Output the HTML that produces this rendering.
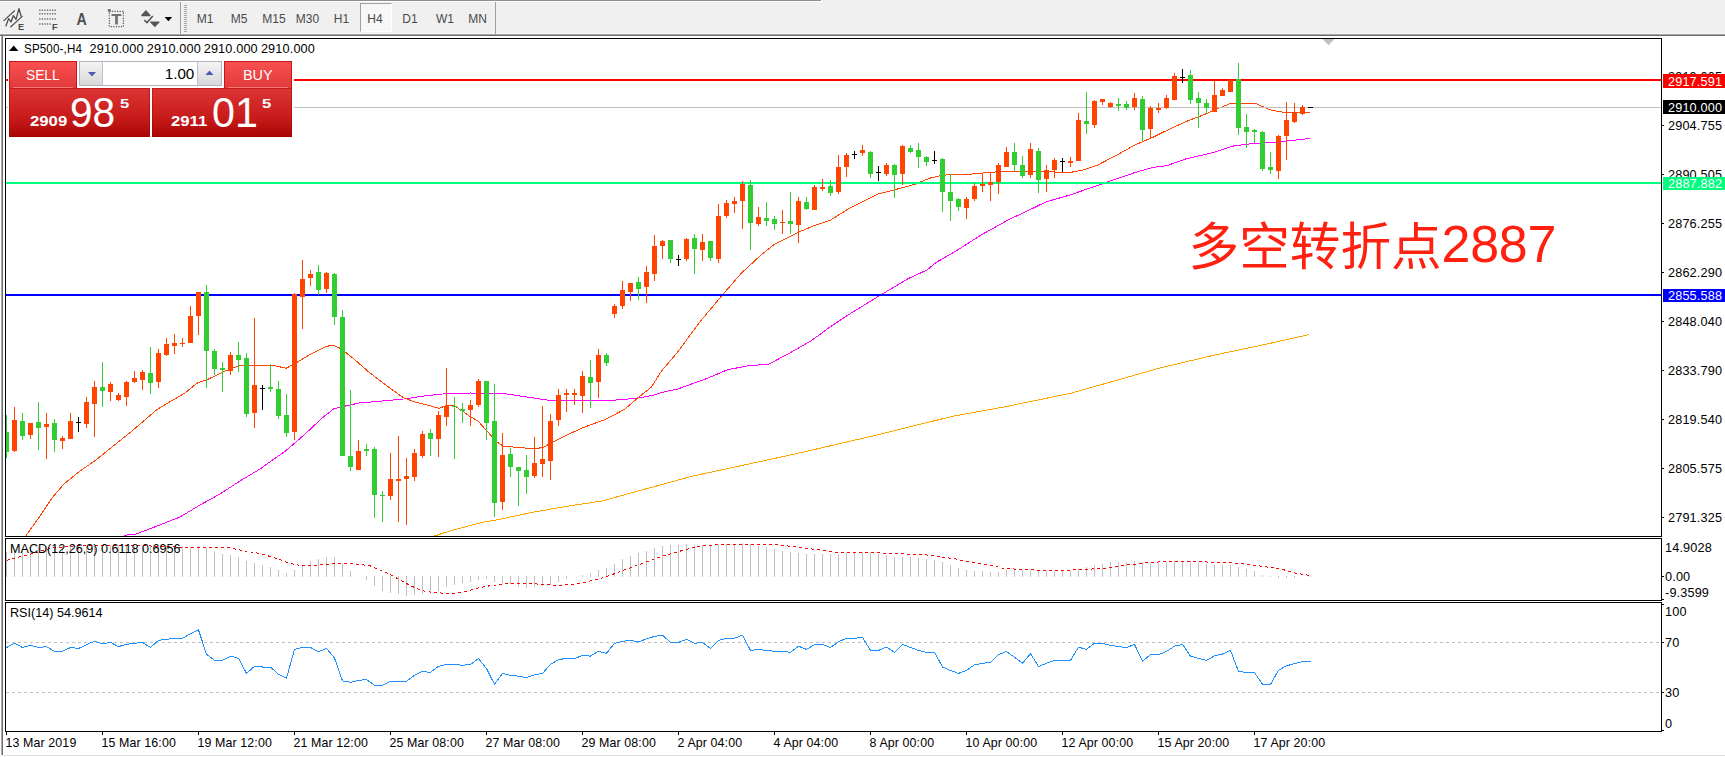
<!DOCTYPE html>
<html><head><meta charset="utf-8"><title>SP500-,H4</title>
<style>
html,body{margin:0;padding:0;}
body{width:1725px;height:757px;overflow:hidden;background:#fff;position:relative;font-family:"Liberation Sans","Noto Sans CJK SC",sans-serif;}
.t{position:absolute;white-space:pre;}
#tb{position:absolute;left:0;top:0;width:1725px;height:36px;background:#f0f0f0;}
.tf{position:absolute;top:12px;font-size:12px;line-height:14px;color:#4a4a4a;text-align:center;}
</style></head><body>
<div id="tb">
<div style="position:absolute;left:0;top:0;width:822px;height:2px;background:#fff"></div><div style="position:absolute;left:0;top:0;width:821px;height:1px;background:#909090"></div>

<div style="position:absolute;left:0;top:33px;width:1725px;height:1px;background:#f6f6f6"></div>
<div style="position:absolute;left:0;top:34px;width:1725px;height:1px;background:#a6a6a6"></div>
<div style="position:absolute;left:0;top:35px;width:1725px;height:1px;background:#6c6c6c"></div>
<div style="position:absolute;left:180px;top:2px;width:1px;height:32px;background:#a0a0a0"></div>
<div style="position:absolute;left:495px;top:2px;width:1px;height:32px;background:#a0a0a0"></div>
<div style="position:absolute;left:184px;top:5px;width:3px;height:27px;background:repeating-linear-gradient(#a8a8a8 0 1px,#f0f0f0 1px 2px)"></div>
<div style="position:absolute;left:360px;top:3px;width:30px;height:27px;border:1px solid #a0a0a0;border-right-color:#fff;border-bottom-color:#fff;background:#f7f7f7"></div>
<div class="tf" style="left:185px;width:40px">M1</div><div class="tf" style="left:219px;width:40px">M5</div><div class="tf" style="left:254px;width:40px">M15</div><div class="tf" style="left:287.5px;width:40px">M30</div><div class="tf" style="left:321.5px;width:40px">H1</div><div class="tf" style="left:355px;width:40px">H4</div><div class="tf" style="left:390px;width:40px">D1</div><div class="tf" style="left:425px;width:40px">W1</div><div class="tf" style="left:457.5px;width:40px">MN</div>
<svg width="180" height="36" style="position:absolute;left:0;top:0">
<g stroke="#4c4c4c" stroke-width="1.15" fill="none" stroke-linecap="round">
<path d="M3.8,20.6 L14.6,10.8 M10.6,27 L22.2,16.3"/>
<path d="M6,25.8 L8.6,18.6 L11,22 L13.4,15.6 L16,19.4 L19,8.6 L21,16" stroke-width="1.3" stroke-linejoin="round"/>
</g>
<text x="18" y="29.6" font-family="Liberation Sans,sans-serif" font-size="9.2" font-weight="bold" fill="#4a4a4a">E</text>
<g stroke="#6a6a6a" stroke-width="1.5" stroke-dasharray="1.3 1.25">
<path d="M39.2,10.2 H56.4 M39.2,13.8 H56.4 M39.2,19 H56.4 M39.2,24 H51.5"/>
</g>
<text x="52" y="29.6" font-family="Liberation Sans,sans-serif" font-size="9.2" font-weight="bold" fill="#4a4a4a">F</text>
<text transform="translate(76.6,24.5) scale(.9,1)" font-family="Liberation Sans,sans-serif" font-size="15.8" font-weight="bold" fill="#505050">A</text>
<rect x="109.4" y="11.3" width="14" height="15.3" fill="none" stroke="#555" stroke-width="1.2" stroke-dasharray="1.2 1.35"/>
<rect x="107.8" y="9.2" width="3" height="2.4" fill="#666"/>
<path d="M111.5,14 H121.4 V16 H117.9 V24.5 H115.1 V16 H111.5 Z" fill="#747474"/>
<path d="M145.9,10 L150.5,15 V16.2 H141.3 V15 Z" fill="#555"/>
<path d="M150.3,21.6 H159.4 V22.4 L154.8,27.2 L150.3,22.4 Z" fill="#555"/>
<path d="M144.3,20.1 L147,22.6 L152.8,16" stroke="#555" stroke-width="1.5" fill="none"/>
<path d="M164.6,17 H172.2 L168.4,21.2 Z" fill="#000"/>
</svg>
</div>
<svg width="1725" height="757" style="position:absolute;left:0;top:0" shape-rendering="crispEdges">
<defs><clipPath id="cm"><rect x="6" y="39" width="1655" height="497"/></clipPath></defs>
<g clip-path="url(#cm)">
<polyline points="434.5,536.0 450.0,530.9 482.0,522.4 496.4,520.0 534.0,512.0 570.0,505.8 602.0,501.0 691.0,476.5 795.0,454.0 873.5,435.8 951.7,416.5 1004.0,407.0 1071.7,393.0 1160.0,368.0 1212.6,355.5 1264.8,344.5 1309.0,334.6" fill="none" stroke="#ffa500" stroke-width="1" />
<polyline points="124.0,535.4 136.0,534.0 152.0,528.0 180.0,517.0 200.0,505.0 220.0,494.0 240.0,481.0 260.0,469.0 267.0,463.9 285.5,451.0 304.0,435.0 322.5,417.7 333.5,409.0 341.0,407.0 359.0,403.0 387.0,400.6 405.7,398.8 424.0,396.0 442.6,394.0 470.0,393.0 504.7,393.6 527.0,397.0 547.0,400.0 588.0,400.0 615.7,400.0 636.0,398.4 652.6,395.4 665.6,391.4 677.7,389.0 705.5,379.0 727.7,369.7 747.0,366.0 769.0,364.0 788.7,353.6 810.9,341.0 830.0,327.0 849.7,314.0 880.0,295.4 908.0,278.7 927.0,270.0 935.7,262.7 955.0,251.6 982.8,234.0 1010.0,219.0 1024.0,212.6 1046.0,201.9 1070.0,195.0 1088.7,188.5 1109.0,181.5 1135.0,172.5 1153.4,167.3 1167.0,165.6 1185.5,159.0 1213.0,152.6 1233.5,146.0 1250.0,143.9 1278.0,141.9 1296.4,140.0 1310.3,138.4" fill="none" stroke="#ff00ff" stroke-width="1" />
<polyline points="26.0,535.6 40.0,516.0 52.0,498.0 64.0,484.0 80.0,471.0 96.0,460.0 112.0,447.0 132.0,431.0 157.0,409.5 185.0,392.9 198.0,382.6 206.5,380.0 224.0,371.5 238.8,366.0 253.6,365.4 273.9,365.4 285.9,368.3 294.2,364.0 310.9,353.9 325.7,346.5 333.0,345.2 340.5,348.4 353.4,358.5 368.2,371.5 387.0,386.0 403.8,398.0 415.0,402.0 429.7,405.6 439.0,408.4 446.0,405.6 454.8,406.0 463.0,411.5 469.6,416.3 478.0,421.0 486.0,430.0 497.0,442.0 503.0,446.0 521.4,447.8 536.0,448.7 543.6,447.2 552.8,442.2 569.4,433.9 582.4,428.0 597.0,422.4 606.4,419.0 625.0,409.0 637.9,397.8 651.5,387.0 661.0,371.7 677.7,352.0 700.0,321.7 722.0,295.4 741.5,273.0 761.0,255.0 774.8,244.0 799.8,231.6 816.4,224.7 830.0,220.5 849.7,208.0 877.9,194.0 896.4,189.3 914.9,184.3 929.7,178.2 940.8,175.5 953.7,174.2 970.0,174.2 996.0,171.9 1024.0,171.5 1051.7,171.9 1070.0,172.5 1083.0,170.0 1098.0,164.9 1116.4,155.3 1135.0,145.0 1153.4,137.0 1172.0,127.9 1189.0,120.3 1204.0,114.7 1218.8,108.2 1231.7,103.0 1241.0,103.0 1255.7,103.6 1270.5,110.0 1283.5,112.3 1296.4,112.9 1310.3,112.3" fill="none" stroke="#ff4500" stroke-width="1" />
<rect x="6" y="107" width="1655" height="1" fill="#c0c0c0"/>
<rect x="6" y="79" width="1655" height="2" fill="#ff0000"/>
<rect x="6" y="182" width="1655" height="2" fill="#00ff7f"/>
<rect x="6" y="294" width="1655" height="2" fill="#0000ff"/>
<rect x="6" y="415" width="1" height="43" fill="#32cd32"/>
<rect x="4" y="432" width="5" height="20" fill="#32cd32"/>
<rect x="14" y="407" width="1" height="45" fill="#ff4500"/>
<rect x="12" y="420" width="5" height="31" fill="#ff4500"/>
<rect x="22" y="413" width="1" height="27" fill="#32cd32"/>
<rect x="20" y="421" width="5" height="15" fill="#32cd32"/>
<rect x="30" y="423" width="1" height="16" fill="#ff4500"/>
<rect x="28" y="423" width="5" height="12" fill="#ff4500"/>
<rect x="38" y="402" width="1" height="48" fill="#32cd32"/>
<rect x="36" y="422" width="5" height="6" fill="#32cd32"/>
<rect x="46" y="413" width="1" height="46" fill="#ff4500"/>
<rect x="44" y="424" width="5" height="3" fill="#ff4500"/>
<rect x="54" y="419" width="1" height="33" fill="#32cd32"/>
<rect x="52" y="423" width="5" height="17" fill="#32cd32"/>
<rect x="62" y="436" width="1" height="13" fill="#ff4500"/>
<rect x="60" y="438" width="5" height="3" fill="#ff4500"/>
<rect x="70" y="413" width="1" height="26" fill="#ff4500"/>
<rect x="68" y="421" width="5" height="18" fill="#ff4500"/>
<rect x="78" y="417" width="1" height="15" fill="#000"/>
<rect x="76" y="422" width="5" height="1" fill="#000"/>
<rect x="86" y="397" width="1" height="31" fill="#ff4500"/>
<rect x="84" y="402" width="5" height="22" fill="#ff4500"/>
<rect x="94" y="381" width="1" height="56" fill="#ff4500"/>
<rect x="92" y="387" width="5" height="17" fill="#ff4500"/>
<rect x="102" y="362" width="1" height="45" fill="#32cd32"/>
<rect x="100" y="387" width="5" height="4" fill="#32cd32"/>
<rect x="110" y="382" width="1" height="19" fill="#ff4500"/>
<rect x="108" y="384" width="5" height="8" fill="#ff4500"/>
<rect x="118" y="393" width="1" height="8" fill="#ff4500"/>
<rect x="116" y="395" width="5" height="5" fill="#ff4500"/>
<rect x="126" y="381" width="1" height="25" fill="#ff4500"/>
<rect x="124" y="382" width="5" height="15" fill="#ff4500"/>
<rect x="134" y="371" width="1" height="12" fill="#ff4500"/>
<rect x="132" y="378" width="5" height="4" fill="#ff4500"/>
<rect x="142" y="370" width="1" height="20" fill="#ff4500"/>
<rect x="140" y="372" width="5" height="8" fill="#ff4500"/>
<rect x="150" y="347" width="1" height="47" fill="#32cd32"/>
<rect x="148" y="373" width="5" height="10" fill="#32cd32"/>
<rect x="158" y="349" width="1" height="39" fill="#ff4500"/>
<rect x="156" y="353" width="5" height="29" fill="#ff4500"/>
<rect x="166" y="338" width="1" height="18" fill="#ff4500"/>
<rect x="164" y="344" width="5" height="11" fill="#ff4500"/>
<rect x="174" y="334" width="1" height="20" fill="#ff4500"/>
<rect x="172" y="343" width="5" height="3" fill="#ff4500"/>
<rect x="182" y="338" width="1" height="9" fill="#ff4500"/>
<rect x="180" y="343" width="5" height="1" fill="#ff4500"/>
<rect x="190" y="306" width="1" height="37" fill="#ff4500"/>
<rect x="188" y="316" width="5" height="27" fill="#ff4500"/>
<rect x="198" y="292" width="1" height="43" fill="#ff4500"/>
<rect x="196" y="292" width="5" height="24" fill="#ff4500"/>
<rect x="206" y="285" width="1" height="103" fill="#32cd32"/>
<rect x="204" y="292" width="5" height="59" fill="#32cd32"/>
<rect x="214" y="349" width="1" height="26" fill="#32cd32"/>
<rect x="212" y="351" width="5" height="18" fill="#32cd32"/>
<rect x="222" y="362" width="1" height="30" fill="#32cd32"/>
<rect x="220" y="368" width="5" height="2" fill="#32cd32"/>
<rect x="230" y="352" width="1" height="23" fill="#ff4500"/>
<rect x="228" y="355" width="5" height="16" fill="#ff4500"/>
<rect x="238" y="342" width="1" height="30" fill="#32cd32"/>
<rect x="236" y="355" width="5" height="5" fill="#32cd32"/>
<rect x="246" y="353" width="1" height="64" fill="#32cd32"/>
<rect x="244" y="358" width="5" height="56" fill="#32cd32"/>
<rect x="254" y="318" width="1" height="110" fill="#ff4500"/>
<rect x="252" y="385" width="5" height="28" fill="#ff4500"/>
<rect x="262" y="385" width="1" height="25" fill="#000"/>
<rect x="260" y="388" width="5" height="1" fill="#000"/>
<rect x="270" y="364" width="1" height="28" fill="#32cd32"/>
<rect x="268" y="387" width="5" height="2" fill="#32cd32"/>
<rect x="278" y="381" width="1" height="38" fill="#32cd32"/>
<rect x="276" y="389" width="5" height="27" fill="#32cd32"/>
<rect x="286" y="394" width="1" height="43" fill="#32cd32"/>
<rect x="284" y="415" width="5" height="18" fill="#32cd32"/>
<rect x="294" y="293" width="1" height="147" fill="#ff4500"/>
<rect x="292" y="294" width="5" height="138" fill="#ff4500"/>
<rect x="302" y="260" width="1" height="69" fill="#ff4500"/>
<rect x="300" y="279" width="5" height="18" fill="#ff4500"/>
<rect x="310" y="270" width="1" height="16" fill="#ff4500"/>
<rect x="308" y="274" width="5" height="4" fill="#ff4500"/>
<rect x="318" y="265" width="1" height="30" fill="#32cd32"/>
<rect x="316" y="272" width="5" height="18" fill="#32cd32"/>
<rect x="326" y="272" width="1" height="21" fill="#ff4500"/>
<rect x="324" y="273" width="5" height="16" fill="#ff4500"/>
<rect x="334" y="273" width="1" height="52" fill="#32cd32"/>
<rect x="332" y="274" width="5" height="43" fill="#32cd32"/>
<rect x="342" y="310" width="1" height="146" fill="#32cd32"/>
<rect x="340" y="317" width="5" height="139" fill="#32cd32"/>
<rect x="350" y="390" width="1" height="81" fill="#32cd32"/>
<rect x="348" y="456" width="5" height="11" fill="#32cd32"/>
<rect x="358" y="440" width="1" height="30" fill="#ff4500"/>
<rect x="356" y="451" width="5" height="19" fill="#ff4500"/>
<rect x="366" y="444" width="1" height="12" fill="#32cd32"/>
<rect x="364" y="449" width="5" height="2" fill="#32cd32"/>
<rect x="374" y="447" width="1" height="71" fill="#32cd32"/>
<rect x="372" y="449" width="5" height="46" fill="#32cd32"/>
<rect x="382" y="491" width="1" height="31" fill="#32cd32"/>
<rect x="380" y="495" width="5" height="1" fill="#32cd32"/>
<rect x="390" y="453" width="1" height="47" fill="#ff4500"/>
<rect x="388" y="479" width="5" height="17" fill="#ff4500"/>
<rect x="398" y="436" width="1" height="86" fill="#ff4500"/>
<rect x="396" y="479" width="5" height="2" fill="#ff4500"/>
<rect x="406" y="458" width="1" height="67" fill="#ff4500"/>
<rect x="404" y="476" width="5" height="3" fill="#ff4500"/>
<rect x="414" y="449" width="1" height="32" fill="#ff4500"/>
<rect x="412" y="453" width="5" height="24" fill="#ff4500"/>
<rect x="422" y="431" width="1" height="27" fill="#ff4500"/>
<rect x="420" y="434" width="5" height="22" fill="#ff4500"/>
<rect x="430" y="429" width="1" height="27" fill="#32cd32"/>
<rect x="428" y="433" width="5" height="6" fill="#32cd32"/>
<rect x="438" y="411" width="1" height="46" fill="#ff4500"/>
<rect x="436" y="415" width="5" height="24" fill="#ff4500"/>
<rect x="446" y="368" width="1" height="58" fill="#ff4500"/>
<rect x="444" y="406" width="5" height="11" fill="#ff4500"/>
<rect x="454" y="397" width="1" height="62" fill="#32cd32"/>
<rect x="452" y="406" width="5" height="1" fill="#32cd32"/>
<rect x="462" y="403" width="1" height="20" fill="#32cd32"/>
<rect x="460" y="409" width="5" height="2" fill="#32cd32"/>
<rect x="470" y="400" width="1" height="26" fill="#ff4500"/>
<rect x="468" y="405" width="5" height="5" fill="#ff4500"/>
<rect x="478" y="379" width="1" height="28" fill="#ff4500"/>
<rect x="476" y="381" width="5" height="24" fill="#ff4500"/>
<rect x="486" y="381" width="1" height="59" fill="#32cd32"/>
<rect x="484" y="381" width="5" height="42" fill="#32cd32"/>
<rect x="494" y="384" width="1" height="133" fill="#32cd32"/>
<rect x="492" y="421" width="5" height="82" fill="#32cd32"/>
<rect x="502" y="433" width="1" height="77" fill="#ff4500"/>
<rect x="500" y="455" width="5" height="47" fill="#ff4500"/>
<rect x="510" y="448" width="1" height="29" fill="#32cd32"/>
<rect x="508" y="454" width="5" height="13" fill="#32cd32"/>
<rect x="518" y="467" width="1" height="39" fill="#32cd32"/>
<rect x="516" y="467" width="5" height="4" fill="#32cd32"/>
<rect x="526" y="455" width="1" height="39" fill="#32cd32"/>
<rect x="524" y="470" width="5" height="7" fill="#32cd32"/>
<rect x="534" y="437" width="1" height="41" fill="#ff4500"/>
<rect x="532" y="463" width="5" height="13" fill="#ff4500"/>
<rect x="542" y="406" width="1" height="71" fill="#ff4500"/>
<rect x="540" y="459" width="5" height="5" fill="#ff4500"/>
<rect x="550" y="414" width="1" height="66" fill="#ff4500"/>
<rect x="548" y="421" width="5" height="40" fill="#ff4500"/>
<rect x="558" y="389" width="1" height="37" fill="#ff4500"/>
<rect x="556" y="395" width="5" height="25" fill="#ff4500"/>
<rect x="566" y="389" width="1" height="23" fill="#ff4500"/>
<rect x="564" y="393" width="5" height="2" fill="#ff4500"/>
<rect x="574" y="389" width="1" height="16" fill="#ff4500"/>
<rect x="572" y="393" width="5" height="2" fill="#ff4500"/>
<rect x="582" y="371" width="1" height="42" fill="#ff4500"/>
<rect x="580" y="376" width="5" height="20" fill="#ff4500"/>
<rect x="590" y="360" width="1" height="48" fill="#32cd32"/>
<rect x="588" y="377" width="5" height="6" fill="#32cd32"/>
<rect x="598" y="349" width="1" height="49" fill="#ff4500"/>
<rect x="596" y="355" width="5" height="27" fill="#ff4500"/>
<rect x="606" y="353" width="1" height="13" fill="#32cd32"/>
<rect x="604" y="355" width="5" height="8" fill="#32cd32"/>
<rect x="614" y="304" width="1" height="14" fill="#ff4500"/>
<rect x="612" y="306" width="5" height="8" fill="#ff4500"/>
<rect x="622" y="281" width="1" height="28" fill="#ff4500"/>
<rect x="620" y="290" width="5" height="16" fill="#ff4500"/>
<rect x="630" y="283" width="1" height="18" fill="#ff4500"/>
<rect x="628" y="283" width="5" height="9" fill="#ff4500"/>
<rect x="638" y="277" width="1" height="23" fill="#32cd32"/>
<rect x="636" y="282" width="5" height="7" fill="#32cd32"/>
<rect x="646" y="266" width="1" height="37" fill="#ff4500"/>
<rect x="644" y="272" width="5" height="15" fill="#ff4500"/>
<rect x="654" y="235" width="1" height="46" fill="#ff4500"/>
<rect x="652" y="246" width="5" height="28" fill="#ff4500"/>
<rect x="662" y="240" width="1" height="19" fill="#ff4500"/>
<rect x="660" y="241" width="5" height="5" fill="#ff4500"/>
<rect x="670" y="240" width="1" height="23" fill="#32cd32"/>
<rect x="668" y="240" width="5" height="19" fill="#32cd32"/>
<rect x="678" y="255" width="1" height="11" fill="#000"/>
<rect x="676" y="259" width="5" height="1" fill="#000"/>
<rect x="686" y="238" width="1" height="23" fill="#ff4500"/>
<rect x="684" y="239" width="5" height="20" fill="#ff4500"/>
<rect x="694" y="234" width="1" height="40" fill="#32cd32"/>
<rect x="692" y="238" width="5" height="11" fill="#32cd32"/>
<rect x="702" y="234" width="1" height="27" fill="#ff4500"/>
<rect x="700" y="242" width="5" height="8" fill="#ff4500"/>
<rect x="710" y="241" width="1" height="20" fill="#32cd32"/>
<rect x="708" y="241" width="5" height="17" fill="#32cd32"/>
<rect x="718" y="204" width="1" height="59" fill="#ff4500"/>
<rect x="716" y="216" width="5" height="43" fill="#ff4500"/>
<rect x="726" y="200" width="1" height="18" fill="#ff4500"/>
<rect x="724" y="203" width="5" height="13" fill="#ff4500"/>
<rect x="734" y="197" width="1" height="16" fill="#ff4500"/>
<rect x="732" y="201" width="5" height="3" fill="#ff4500"/>
<rect x="742" y="181" width="1" height="48" fill="#ff4500"/>
<rect x="740" y="184" width="5" height="17" fill="#ff4500"/>
<rect x="750" y="180" width="1" height="70" fill="#32cd32"/>
<rect x="748" y="185" width="5" height="38" fill="#32cd32"/>
<rect x="758" y="207" width="1" height="19" fill="#ff4500"/>
<rect x="756" y="217" width="5" height="7" fill="#ff4500"/>
<rect x="766" y="202" width="1" height="24" fill="#32cd32"/>
<rect x="764" y="218" width="5" height="3" fill="#32cd32"/>
<rect x="774" y="216" width="1" height="14" fill="#32cd32"/>
<rect x="772" y="219" width="5" height="5" fill="#32cd32"/>
<rect x="782" y="210" width="1" height="24" fill="#ff4500"/>
<rect x="780" y="222" width="5" height="1" fill="#ff4500"/>
<rect x="790" y="192" width="1" height="42" fill="#32cd32"/>
<rect x="788" y="221" width="5" height="3" fill="#32cd32"/>
<rect x="798" y="197" width="1" height="46" fill="#ff4500"/>
<rect x="796" y="201" width="5" height="24" fill="#ff4500"/>
<rect x="806" y="197" width="1" height="13" fill="#32cd32"/>
<rect x="804" y="202" width="5" height="7" fill="#32cd32"/>
<rect x="814" y="185" width="1" height="25" fill="#ff4500"/>
<rect x="812" y="187" width="5" height="23" fill="#ff4500"/>
<rect x="822" y="179" width="1" height="12" fill="#ff4500"/>
<rect x="820" y="187" width="5" height="2" fill="#ff4500"/>
<rect x="830" y="180" width="1" height="16" fill="#32cd32"/>
<rect x="828" y="186" width="5" height="7" fill="#32cd32"/>
<rect x="838" y="155" width="1" height="39" fill="#ff4500"/>
<rect x="836" y="167" width="5" height="25" fill="#ff4500"/>
<rect x="846" y="153" width="1" height="24" fill="#ff4500"/>
<rect x="844" y="155" width="5" height="12" fill="#ff4500"/>
<rect x="854" y="151" width="1" height="8" fill="#000"/>
<rect x="852" y="154" width="5" height="1" fill="#000"/>
<rect x="862" y="145" width="1" height="11" fill="#ff4500"/>
<rect x="860" y="150" width="5" height="3" fill="#ff4500"/>
<rect x="870" y="151" width="1" height="27" fill="#32cd32"/>
<rect x="868" y="152" width="5" height="22" fill="#32cd32"/>
<rect x="878" y="166" width="1" height="15" fill="#000"/>
<rect x="876" y="172" width="5" height="1" fill="#000"/>
<rect x="886" y="163" width="1" height="13" fill="#ff4500"/>
<rect x="884" y="165" width="5" height="9" fill="#ff4500"/>
<rect x="894" y="164" width="1" height="34" fill="#32cd32"/>
<rect x="892" y="165" width="5" height="10" fill="#32cd32"/>
<rect x="902" y="145" width="1" height="40" fill="#ff4500"/>
<rect x="900" y="146" width="5" height="28" fill="#ff4500"/>
<rect x="910" y="145" width="1" height="8" fill="#32cd32"/>
<rect x="908" y="148" width="5" height="4" fill="#32cd32"/>
<rect x="918" y="143" width="1" height="25" fill="#32cd32"/>
<rect x="916" y="150" width="5" height="7" fill="#32cd32"/>
<rect x="926" y="156" width="1" height="10" fill="#32cd32"/>
<rect x="924" y="157" width="5" height="5" fill="#32cd32"/>
<rect x="934" y="151" width="1" height="13" fill="#000"/>
<rect x="932" y="160" width="5" height="1" fill="#000"/>
<rect x="942" y="158" width="1" height="54" fill="#32cd32"/>
<rect x="940" y="159" width="5" height="33" fill="#32cd32"/>
<rect x="950" y="174" width="1" height="47" fill="#32cd32"/>
<rect x="948" y="192" width="5" height="9" fill="#32cd32"/>
<rect x="958" y="198" width="1" height="13" fill="#32cd32"/>
<rect x="956" y="199" width="5" height="8" fill="#32cd32"/>
<rect x="966" y="197" width="1" height="22" fill="#ff4500"/>
<rect x="964" y="199" width="5" height="9" fill="#ff4500"/>
<rect x="974" y="183" width="1" height="18" fill="#ff4500"/>
<rect x="972" y="186" width="5" height="13" fill="#ff4500"/>
<rect x="982" y="173" width="1" height="19" fill="#ff4500"/>
<rect x="980" y="184" width="5" height="2" fill="#ff4500"/>
<rect x="990" y="173" width="1" height="28" fill="#ff4500"/>
<rect x="988" y="182" width="5" height="3" fill="#ff4500"/>
<rect x="998" y="163" width="1" height="31" fill="#ff4500"/>
<rect x="996" y="165" width="5" height="17" fill="#ff4500"/>
<rect x="1006" y="147" width="1" height="20" fill="#ff4500"/>
<rect x="1004" y="152" width="5" height="15" fill="#ff4500"/>
<rect x="1014" y="143" width="1" height="28" fill="#32cd32"/>
<rect x="1012" y="152" width="5" height="13" fill="#32cd32"/>
<rect x="1022" y="156" width="1" height="22" fill="#32cd32"/>
<rect x="1020" y="165" width="5" height="11" fill="#32cd32"/>
<rect x="1030" y="143" width="1" height="35" fill="#ff4500"/>
<rect x="1028" y="149" width="5" height="26" fill="#ff4500"/>
<rect x="1038" y="148" width="1" height="45" fill="#32cd32"/>
<rect x="1036" y="151" width="5" height="29" fill="#32cd32"/>
<rect x="1046" y="165" width="1" height="27" fill="#ff4500"/>
<rect x="1044" y="170" width="5" height="9" fill="#ff4500"/>
<rect x="1054" y="158" width="1" height="20" fill="#ff4500"/>
<rect x="1052" y="160" width="5" height="10" fill="#ff4500"/>
<rect x="1062" y="158" width="1" height="14" fill="#000"/>
<rect x="1060" y="161" width="5" height="1" fill="#000"/>
<rect x="1070" y="157" width="1" height="10" fill="#ff4500"/>
<rect x="1068" y="161" width="5" height="2" fill="#ff4500"/>
<rect x="1078" y="113" width="1" height="48" fill="#ff4500"/>
<rect x="1076" y="120" width="5" height="41" fill="#ff4500"/>
<rect x="1086" y="92" width="1" height="42" fill="#32cd32"/>
<rect x="1084" y="121" width="5" height="3" fill="#32cd32"/>
<rect x="1094" y="100" width="1" height="28" fill="#ff4500"/>
<rect x="1092" y="101" width="5" height="24" fill="#ff4500"/>
<rect x="1102" y="99" width="1" height="6" fill="#ff4500"/>
<rect x="1100" y="99" width="5" height="3" fill="#ff4500"/>
<rect x="1110" y="102" width="1" height="6" fill="#ff4500"/>
<rect x="1108" y="103" width="5" height="4" fill="#ff4500"/>
<rect x="1118" y="98" width="1" height="13" fill="#32cd32"/>
<rect x="1116" y="104" width="5" height="2" fill="#32cd32"/>
<rect x="1126" y="101" width="1" height="9" fill="#32cd32"/>
<rect x="1124" y="104" width="5" height="4" fill="#32cd32"/>
<rect x="1134" y="93" width="1" height="17" fill="#ff4500"/>
<rect x="1132" y="98" width="5" height="9" fill="#ff4500"/>
<rect x="1142" y="96" width="1" height="45" fill="#32cd32"/>
<rect x="1140" y="99" width="5" height="31" fill="#32cd32"/>
<rect x="1150" y="106" width="1" height="33" fill="#ff4500"/>
<rect x="1148" y="108" width="5" height="21" fill="#ff4500"/>
<rect x="1158" y="103" width="1" height="10" fill="#ff4500"/>
<rect x="1156" y="108" width="5" height="2" fill="#ff4500"/>
<rect x="1166" y="95" width="1" height="14" fill="#ff4500"/>
<rect x="1164" y="98" width="5" height="10" fill="#ff4500"/>
<rect x="1174" y="73" width="1" height="27" fill="#ff4500"/>
<rect x="1172" y="76" width="5" height="24" fill="#ff4500"/>
<rect x="1182" y="69" width="1" height="14" fill="#000"/>
<rect x="1180" y="77" width="5" height="1" fill="#000"/>
<rect x="1190" y="70" width="1" height="34" fill="#32cd32"/>
<rect x="1188" y="75" width="5" height="25" fill="#32cd32"/>
<rect x="1198" y="92" width="1" height="36" fill="#32cd32"/>
<rect x="1196" y="98" width="5" height="5" fill="#32cd32"/>
<rect x="1206" y="99" width="1" height="15" fill="#32cd32"/>
<rect x="1204" y="103" width="5" height="5" fill="#32cd32"/>
<rect x="1214" y="81" width="1" height="31" fill="#ff4500"/>
<rect x="1212" y="95" width="5" height="17" fill="#ff4500"/>
<rect x="1222" y="88" width="1" height="8" fill="#ff4500"/>
<rect x="1220" y="90" width="5" height="6" fill="#ff4500"/>
<rect x="1230" y="79" width="1" height="13" fill="#ff4500"/>
<rect x="1228" y="80" width="5" height="12" fill="#ff4500"/>
<rect x="1238" y="63" width="1" height="72" fill="#32cd32"/>
<rect x="1236" y="79" width="5" height="49" fill="#32cd32"/>
<rect x="1246" y="114" width="1" height="34" fill="#32cd32"/>
<rect x="1244" y="127" width="5" height="5" fill="#32cd32"/>
<rect x="1254" y="129" width="1" height="14" fill="#32cd32"/>
<rect x="1252" y="130" width="5" height="2" fill="#32cd32"/>
<rect x="1262" y="131" width="1" height="40" fill="#32cd32"/>
<rect x="1260" y="132" width="5" height="37" fill="#32cd32"/>
<rect x="1270" y="152" width="1" height="22" fill="#32cd32"/>
<rect x="1268" y="167" width="5" height="3" fill="#32cd32"/>
<rect x="1278" y="135" width="1" height="44" fill="#ff4500"/>
<rect x="1276" y="136" width="5" height="35" fill="#ff4500"/>
<rect x="1286" y="102" width="1" height="58" fill="#ff4500"/>
<rect x="1284" y="120" width="5" height="16" fill="#ff4500"/>
<rect x="1294" y="103" width="1" height="20" fill="#ff4500"/>
<rect x="1292" y="112" width="5" height="10" fill="#ff4500"/>
<rect x="1302" y="105" width="1" height="10" fill="#ff4500"/>
<rect x="1300" y="107" width="5" height="7" fill="#ff4500"/>
<rect x="1310" y="107" width="1" height="1" fill="#000"/>
<rect x="1308" y="107" width="5" height="1" fill="#000"/>
</g>
<rect x="6" y="552" width="1" height="25" fill="#c0c0c0"/>
<rect x="14" y="550" width="1" height="27" fill="#c0c0c0"/>
<rect x="22" y="549" width="1" height="28" fill="#c0c0c0"/>
<rect x="30" y="548" width="1" height="29" fill="#c0c0c0"/>
<rect x="38" y="547" width="1" height="30" fill="#c0c0c0"/>
<rect x="46" y="546" width="1" height="31" fill="#c0c0c0"/>
<rect x="54" y="546" width="1" height="31" fill="#c0c0c0"/>
<rect x="62" y="546" width="1" height="31" fill="#c0c0c0"/>
<rect x="70" y="546" width="1" height="31" fill="#c0c0c0"/>
<rect x="78" y="546" width="1" height="31" fill="#c0c0c0"/>
<rect x="86" y="546" width="1" height="31" fill="#c0c0c0"/>
<rect x="94" y="546" width="1" height="31" fill="#c0c0c0"/>
<rect x="102" y="546" width="1" height="31" fill="#c0c0c0"/>
<rect x="110" y="546" width="1" height="31" fill="#c0c0c0"/>
<rect x="118" y="546" width="1" height="31" fill="#c0c0c0"/>
<rect x="126" y="546" width="1" height="31" fill="#c0c0c0"/>
<rect x="134" y="546" width="1" height="31" fill="#c0c0c0"/>
<rect x="142" y="546" width="1" height="31" fill="#c0c0c0"/>
<rect x="150" y="546" width="1" height="31" fill="#c0c0c0"/>
<rect x="158" y="546" width="1" height="31" fill="#c0c0c0"/>
<rect x="166" y="546" width="1" height="31" fill="#c0c0c0"/>
<rect x="174" y="546" width="1" height="31" fill="#c0c0c0"/>
<rect x="182" y="546" width="1" height="31" fill="#c0c0c0"/>
<rect x="190" y="546" width="1" height="31" fill="#c0c0c0"/>
<rect x="198" y="546" width="1" height="31" fill="#c0c0c0"/>
<rect x="206" y="548" width="1" height="29" fill="#c0c0c0"/>
<rect x="214" y="551" width="1" height="26" fill="#c0c0c0"/>
<rect x="222" y="554" width="1" height="23" fill="#c0c0c0"/>
<rect x="230" y="555" width="1" height="22" fill="#c0c0c0"/>
<rect x="238" y="557" width="1" height="20" fill="#c0c0c0"/>
<rect x="246" y="561" width="1" height="16" fill="#c0c0c0"/>
<rect x="254" y="563" width="1" height="14" fill="#c0c0c0"/>
<rect x="262" y="565" width="1" height="12" fill="#c0c0c0"/>
<rect x="270" y="567" width="1" height="10" fill="#c0c0c0"/>
<rect x="278" y="570" width="1" height="7" fill="#c0c0c0"/>
<rect x="286" y="573" width="1" height="4" fill="#c0c0c0"/>
<rect x="294" y="570" width="1" height="7" fill="#c0c0c0"/>
<rect x="302" y="565" width="1" height="12" fill="#c0c0c0"/>
<rect x="310" y="561" width="1" height="16" fill="#c0c0c0"/>
<rect x="318" y="559" width="1" height="18" fill="#c0c0c0"/>
<rect x="326" y="557" width="1" height="20" fill="#c0c0c0"/>
<rect x="334" y="557" width="1" height="20" fill="#c0c0c0"/>
<rect x="342" y="563" width="1" height="14" fill="#c0c0c0"/>
<rect x="350" y="571" width="1" height="6" fill="#c0c0c0"/>
<rect x="366" y="576" width="1" height="4" fill="#c0c0c0"/>
<rect x="374" y="576" width="1" height="10" fill="#c0c0c0"/>
<rect x="382" y="576" width="1" height="15" fill="#c0c0c0"/>
<rect x="390" y="576" width="1" height="17" fill="#c0c0c0"/>
<rect x="398" y="576" width="1" height="18" fill="#c0c0c0"/>
<rect x="406" y="576" width="1" height="20" fill="#c0c0c0"/>
<rect x="414" y="576" width="1" height="19" fill="#c0c0c0"/>
<rect x="422" y="576" width="1" height="18" fill="#c0c0c0"/>
<rect x="430" y="576" width="1" height="16" fill="#c0c0c0"/>
<rect x="438" y="576" width="1" height="15" fill="#c0c0c0"/>
<rect x="446" y="576" width="1" height="11" fill="#c0c0c0"/>
<rect x="454" y="576" width="1" height="9" fill="#c0c0c0"/>
<rect x="462" y="576" width="1" height="7" fill="#c0c0c0"/>
<rect x="470" y="576" width="1" height="6" fill="#c0c0c0"/>
<rect x="478" y="576" width="1" height="4" fill="#c0c0c0"/>
<rect x="486" y="576" width="1" height="3" fill="#c0c0c0"/>
<rect x="494" y="576" width="1" height="6" fill="#c0c0c0"/>
<rect x="502" y="576" width="1" height="7" fill="#c0c0c0"/>
<rect x="510" y="576" width="1" height="8" fill="#c0c0c0"/>
<rect x="518" y="576" width="1" height="11" fill="#c0c0c0"/>
<rect x="526" y="576" width="1" height="12" fill="#c0c0c0"/>
<rect x="534" y="576" width="1" height="11" fill="#c0c0c0"/>
<rect x="542" y="576" width="1" height="10" fill="#c0c0c0"/>
<rect x="550" y="576" width="1" height="9" fill="#c0c0c0"/>
<rect x="558" y="576" width="1" height="6" fill="#c0c0c0"/>
<rect x="566" y="576" width="1" height="3" fill="#c0c0c0"/>
<rect x="582" y="575" width="1" height="2" fill="#c0c0c0"/>
<rect x="590" y="573" width="1" height="4" fill="#c0c0c0"/>
<rect x="598" y="570" width="1" height="7" fill="#c0c0c0"/>
<rect x="606" y="568" width="1" height="9" fill="#c0c0c0"/>
<rect x="614" y="564" width="1" height="13" fill="#c0c0c0"/>
<rect x="622" y="559" width="1" height="18" fill="#c0c0c0"/>
<rect x="630" y="556" width="1" height="21" fill="#c0c0c0"/>
<rect x="638" y="553" width="1" height="24" fill="#c0c0c0"/>
<rect x="646" y="551" width="1" height="26" fill="#c0c0c0"/>
<rect x="654" y="548" width="1" height="29" fill="#c0c0c0"/>
<rect x="662" y="546" width="1" height="31" fill="#c0c0c0"/>
<rect x="670" y="545" width="1" height="32" fill="#c0c0c0"/>
<rect x="678" y="545" width="1" height="32" fill="#c0c0c0"/>
<rect x="686" y="544" width="1" height="33" fill="#c0c0c0"/>
<rect x="694" y="545" width="1" height="32" fill="#c0c0c0"/>
<rect x="702" y="545" width="1" height="32" fill="#c0c0c0"/>
<rect x="710" y="545" width="1" height="32" fill="#c0c0c0"/>
<rect x="718" y="545" width="1" height="32" fill="#c0c0c0"/>
<rect x="726" y="544" width="1" height="33" fill="#c0c0c0"/>
<rect x="734" y="544" width="1" height="33" fill="#c0c0c0"/>
<rect x="742" y="543" width="1" height="34" fill="#c0c0c0"/>
<rect x="750" y="544" width="1" height="33" fill="#c0c0c0"/>
<rect x="758" y="546" width="1" height="31" fill="#c0c0c0"/>
<rect x="766" y="547" width="1" height="30" fill="#c0c0c0"/>
<rect x="774" y="549" width="1" height="28" fill="#c0c0c0"/>
<rect x="782" y="551" width="1" height="26" fill="#c0c0c0"/>
<rect x="790" y="552" width="1" height="25" fill="#c0c0c0"/>
<rect x="798" y="553" width="1" height="24" fill="#c0c0c0"/>
<rect x="806" y="554" width="1" height="23" fill="#c0c0c0"/>
<rect x="814" y="554" width="1" height="23" fill="#c0c0c0"/>
<rect x="822" y="554" width="1" height="23" fill="#c0c0c0"/>
<rect x="830" y="554" width="1" height="23" fill="#c0c0c0"/>
<rect x="838" y="554" width="1" height="23" fill="#c0c0c0"/>
<rect x="846" y="553" width="1" height="24" fill="#c0c0c0"/>
<rect x="854" y="552" width="1" height="25" fill="#c0c0c0"/>
<rect x="862" y="552" width="1" height="25" fill="#c0c0c0"/>
<rect x="870" y="553" width="1" height="24" fill="#c0c0c0"/>
<rect x="878" y="554" width="1" height="23" fill="#c0c0c0"/>
<rect x="886" y="555" width="1" height="22" fill="#c0c0c0"/>
<rect x="894" y="557" width="1" height="20" fill="#c0c0c0"/>
<rect x="902" y="557" width="1" height="20" fill="#c0c0c0"/>
<rect x="910" y="557" width="1" height="20" fill="#c0c0c0"/>
<rect x="918" y="558" width="1" height="19" fill="#c0c0c0"/>
<rect x="926" y="559" width="1" height="18" fill="#c0c0c0"/>
<rect x="934" y="560" width="1" height="17" fill="#c0c0c0"/>
<rect x="942" y="562" width="1" height="15" fill="#c0c0c0"/>
<rect x="950" y="565" width="1" height="12" fill="#c0c0c0"/>
<rect x="958" y="568" width="1" height="9" fill="#c0c0c0"/>
<rect x="966" y="570" width="1" height="7" fill="#c0c0c0"/>
<rect x="974" y="571" width="1" height="6" fill="#c0c0c0"/>
<rect x="982" y="571" width="1" height="6" fill="#c0c0c0"/>
<rect x="990" y="572" width="1" height="5" fill="#c0c0c0"/>
<rect x="998" y="572" width="1" height="5" fill="#c0c0c0"/>
<rect x="1006" y="570" width="1" height="7" fill="#c0c0c0"/>
<rect x="1014" y="570" width="1" height="7" fill="#c0c0c0"/>
<rect x="1022" y="570" width="1" height="7" fill="#c0c0c0"/>
<rect x="1030" y="570" width="1" height="7" fill="#c0c0c0"/>
<rect x="1038" y="571" width="1" height="6" fill="#c0c0c0"/>
<rect x="1046" y="571" width="1" height="6" fill="#c0c0c0"/>
<rect x="1054" y="571" width="1" height="6" fill="#c0c0c0"/>
<rect x="1062" y="571" width="1" height="6" fill="#c0c0c0"/>
<rect x="1070" y="571" width="1" height="6" fill="#c0c0c0"/>
<rect x="1078" y="569" width="1" height="8" fill="#c0c0c0"/>
<rect x="1086" y="567" width="1" height="10" fill="#c0c0c0"/>
<rect x="1094" y="565" width="1" height="12" fill="#c0c0c0"/>
<rect x="1102" y="564" width="1" height="13" fill="#c0c0c0"/>
<rect x="1110" y="562" width="1" height="15" fill="#c0c0c0"/>
<rect x="1118" y="562" width="1" height="15" fill="#c0c0c0"/>
<rect x="1126" y="562" width="1" height="15" fill="#c0c0c0"/>
<rect x="1134" y="561" width="1" height="16" fill="#c0c0c0"/>
<rect x="1142" y="562" width="1" height="15" fill="#c0c0c0"/>
<rect x="1150" y="563" width="1" height="14" fill="#c0c0c0"/>
<rect x="1158" y="563" width="1" height="14" fill="#c0c0c0"/>
<rect x="1166" y="562" width="1" height="15" fill="#c0c0c0"/>
<rect x="1174" y="561" width="1" height="16" fill="#c0c0c0"/>
<rect x="1182" y="561" width="1" height="16" fill="#c0c0c0"/>
<rect x="1190" y="561" width="1" height="16" fill="#c0c0c0"/>
<rect x="1198" y="562" width="1" height="15" fill="#c0c0c0"/>
<rect x="1206" y="564" width="1" height="13" fill="#c0c0c0"/>
<rect x="1214" y="565" width="1" height="12" fill="#c0c0c0"/>
<rect x="1222" y="565" width="1" height="12" fill="#c0c0c0"/>
<rect x="1230" y="565" width="1" height="12" fill="#c0c0c0"/>
<rect x="1238" y="567" width="1" height="10" fill="#c0c0c0"/>
<rect x="1246" y="569" width="1" height="8" fill="#c0c0c0"/>
<rect x="1254" y="571" width="1" height="6" fill="#c0c0c0"/>
<rect x="1262" y="575" width="1" height="2" fill="#c0c0c0"/>
<rect x="1270" y="576" width="1" height="1" fill="#c0c0c0"/>
<rect x="1278" y="576" width="1" height="2" fill="#c0c0c0"/>
<rect x="1286" y="576" width="1" height="2" fill="#c0c0c0"/>
<rect x="1294" y="576" width="1" height="2" fill="#c0c0c0"/>
<rect x="1310" y="576" width="1" height="1" fill="#c0c0c0"/>
<polyline points="6.7,560.5 19.0,557.0 30.6,554.2 49.7,548.4 76.5,545.6 95.7,545.2 140.0,545.6 181.7,547.1 229.6,547.9 241.0,550.3 258.3,553.2 273.6,557.4 290.8,563.7 302.3,565.7 320.0,565.0 331.5,563.7 352.5,563.7 369.7,565.7 385.0,572.0 396.5,578.0 410.0,585.4 421.4,590.5 434.8,592.8 454.0,593.4 465.4,591.5 478.8,587.7 492.0,585.4 511.3,583.4 530.4,583.4 545.7,584.8 559.0,585.4 576.4,584.2 587.8,581.5 603.0,577.7 618.4,572.3 635.7,565.7 649.6,560.9 661.0,556.5 678.0,551.7 691.7,548.0 703.0,546.0 716.5,544.6 745.0,544.2 774.0,544.2 785.4,545.6 802.6,547.9 816.0,549.4 835.0,552.3 879.0,552.6 888.7,553.6 904.0,553.6 911.7,554.6 927.0,555.0 938.4,556.7 953.7,558.6 970.7,562.2 992.0,565.4 1003.0,568.2 1024.0,569.7 1045.8,570.3 1067.0,570.3 1088.7,569.2 1106.0,568.2 1118.7,566.0 1131.6,564.5 1148.8,562.4 1174.5,561.3 1200.0,561.3 1208.8,562.2 1238.9,563.2 1260.0,566.0 1281.7,569.2 1294.6,572.9 1310.5,575.7" fill="none" stroke="#ff0000" stroke-width="1" stroke-dasharray="3 3"/>
<line x1="6" y1="642.5" x2="1661" y2="642.5" stroke="#c0c0c0" stroke-dasharray="3 3"/>
<line x1="6" y1="692.5" x2="1661" y2="692.5" stroke="#c0c0c0" stroke-dasharray="3 3"/>
<polyline points="6.5,647.5 14.5,643.3 22.5,647.5 30.5,645.2 38.5,647.5 46.5,646.6 54.5,651.3 62.5,651.3 70.5,647.5 78.5,648.5 86.5,644.7 94.5,641.2 102.5,643.7 110.5,642.4 118.5,646.6 126.5,644.3 134.5,643.3 142.5,642.4 150.5,647.5 158.5,640.3 166.5,639.3 174.5,638.3 182.5,638.3 190.5,633.7 198.5,629.9 206.5,654.2 214.5,660.3 222.5,660.3 230.5,656.1 238.5,658.4 246.5,673.4 254.5,666.3 262.5,667.0 270.5,667.0 278.5,674.3 286.5,678.1 294.5,649.4 302.5,647.5 310.5,647.5 318.5,651.7 326.5,648.5 334.5,658.0 342.5,681.0 350.5,682.3 358.5,680.4 366.5,679.5 374.5,685.2 382.5,685.2 390.5,681.4 398.5,681.4 406.5,681.4 414.5,675.3 422.5,671.4 430.5,672.4 438.5,666.3 446.5,664.4 454.5,664.4 462.5,665.3 470.5,664.4 478.5,658.6 486.5,668.6 494.5,684.3 502.5,673.4 510.5,675.3 518.5,676.2 526.5,677.6 534.5,674.7 542.5,673.4 550.5,664.4 558.5,659.6 566.5,658.4 574.5,658.4 582.5,655.6 590.5,656.1 598.5,651.3 606.5,653.3 614.5,643.3 622.5,641.4 630.5,640.3 638.5,641.8 646.5,638.9 654.5,636.4 662.5,635.1 670.5,642.4 678.5,642.4 686.5,639.3 694.5,643.3 702.5,642.4 710.5,648.5 718.5,640.3 726.5,638.3 734.5,638.3 742.5,635.1 750.5,650.4 758.5,649.4 766.5,650.4 774.5,651.3 782.5,651.3 790.5,652.3 798.5,646.2 806.5,649.4 814.5,644.7 822.5,644.3 830.5,647.5 838.5,641.8 846.5,638.3 854.5,638.3 862.5,637.4 870.5,650.4 878.5,650.4 886.5,647.1 894.5,652.3 902.5,644.3 910.5,647.5 918.5,650.4 926.5,652.3 934.5,652.3 942.5,667.0 950.5,670.5 958.5,673.4 966.5,670.3 974.5,664.8 982.5,663.3 990.5,662.2 998.5,654.7 1006.5,651.5 1014.5,657.3 1022.5,663.3 1030.5,653.6 1038.5,666.5 1046.5,663.3 1054.5,660.5 1062.5,660.5 1070.5,660.5 1078.5,647.2 1086.5,649.3 1094.5,643.3 1102.5,643.3 1110.5,645.5 1118.5,646.5 1126.5,647.6 1134.5,644.4 1142.5,661.1 1150.5,654.7 1158.5,654.7 1166.5,651.5 1174.5,646.1 1182.5,644.4 1190.5,656.2 1198.5,658.3 1206.5,660.5 1214.5,655.8 1222.5,654.0 1230.5,650.4 1238.5,671.4 1246.5,672.5 1254.5,672.5 1262.5,684.3 1270.5,684.3 1278.5,670.3 1286.5,665.8 1294.5,663.7 1302.5,661.5 1310.5,661.5" fill="none" stroke="#1e90ff" stroke-width="1" />
<rect x="5.5" y="38.5" width="1656" height="498" fill="none" stroke="#000" stroke-width="1"/>
<rect x="5.5" y="538.5" width="1656" height="62" fill="none" stroke="#000" stroke-width="1"/>
<rect x="5.5" y="602.5" width="1656" height="129" fill="none" stroke="#000" stroke-width="1"/>
<rect x="1" y="36" width="1" height="719" fill="#a8a8a8"/>
<rect x="2" y="36" width="1" height="719" fill="#6e6e6e"/>
<rect x="2" y="755" width="1723" height="1" fill="#e0e0e0"/>
<rect x="1662" y="125" width="2" height="1" fill="#000"/>
<rect x="1662" y="174" width="2" height="1" fill="#000"/>
<rect x="1662" y="223" width="2" height="1" fill="#000"/>
<rect x="1662" y="272" width="2" height="1" fill="#000"/>
<rect x="1662" y="321" width="2" height="1" fill="#000"/>
<rect x="1662" y="370" width="2" height="1" fill="#000"/>
<rect x="1662" y="419" width="2" height="1" fill="#000"/>
<rect x="1662" y="468" width="2" height="1" fill="#000"/>
<rect x="1662" y="517" width="2" height="1" fill="#000"/>
<rect x="1662" y="576" width="2" height="1" fill="#000"/>
<rect x="1662" y="599" width="2" height="1" fill="#000"/>
<rect x="1662" y="604" width="2" height="1" fill="#000"/>
<rect x="1662" y="642" width="2" height="1" fill="#000"/>
<rect x="1662" y="692" width="2" height="1" fill="#000"/>
<rect x="1662" y="730" width="2" height="1" fill="#000"/>
<rect x="6" y="732" width="1" height="3" fill="#000"/>
<rect x="102" y="732" width="1" height="3" fill="#000"/>
<rect x="198" y="732" width="1" height="3" fill="#000"/>
<rect x="294" y="732" width="1" height="3" fill="#000"/>
<rect x="390" y="732" width="1" height="3" fill="#000"/>
<rect x="486" y="732" width="1" height="3" fill="#000"/>
<rect x="582" y="732" width="1" height="3" fill="#000"/>
<rect x="678" y="732" width="1" height="3" fill="#000"/>
<rect x="774" y="732" width="1" height="3" fill="#000"/>
<rect x="870" y="732" width="1" height="3" fill="#000"/>
<rect x="966" y="732" width="1" height="3" fill="#000"/>
<rect x="1062" y="732" width="1" height="3" fill="#000"/>
<rect x="1158" y="732" width="1" height="3" fill="#000"/>
<rect x="1254" y="732" width="1" height="3" fill="#000"/>
<polygon points="1322.5,39 1334.5,39 1328.5,45.3" fill="#c0c0c0" shape-rendering="geometricPrecision"/>
<polygon points="9,51 18.4,51 13.7,45.6" fill="#000" shape-rendering="geometricPrecision"/>
</svg>
<div style="position:absolute;left:8px;top:60px;width:286px;height:78px;background:#fff"></div>
<div style="position:absolute;left:9px;top:61px;width:283px;height:76px;">
<div style="position:absolute;left:0;top:0;width:68px;height:27px;background:linear-gradient(#f85050,#e23a3a);border:1px solid #c81414;border-bottom:none;box-sizing:border-box"></div>
<div style="position:absolute;left:215px;top:0;width:68px;height:27px;background:linear-gradient(#f85050,#e23a3a);border:1px solid #c81414;border-bottom:none;box-sizing:border-box"></div>
<div style="position:absolute;left:0;top:27px;width:141px;height:49px;background:linear-gradient(#de3434,#c81c1c 60%,#aa0404);box-shadow:inset 0 0 0 1px rgba(160,0,0,.45);"></div>
<div style="position:absolute;left:143px;top:27px;width:140px;height:49px;background:linear-gradient(#de3434,#c81c1c 60%,#aa0404);box-shadow:inset 0 0 0 1px rgba(160,0,0,.45);"></div>
<div style="position:absolute;left:4px;top:26px;width:60px;height:1px;background:#f47878"></div>
<div style="position:absolute;left:219px;top:26px;width:60px;height:1px;background:#f47878"></div>
<div style="position:absolute;left:70px;top:0px;width:143px;height:25px;border:1px solid #b0b4c0;box-sizing:border-box;background:#fff"></div>
<div style="position:absolute;left:71px;top:1px;width:23px;height:23px;background:linear-gradient(#f4f4f4,#d8d8d8);border-right:1px solid #c0c0c8;box-sizing:border-box"></div>
<div style="position:absolute;left:188px;top:1px;width:24px;height:23px;background:linear-gradient(#f4f4f4,#d8d8d8);border-left:1px solid #c0c0c8;box-sizing:border-box"></div>
<svg width="283" height="76" style="position:absolute;left:0;top:0"><path d="M79,11 H87 L83,15.5 Z" fill="#4a5ab0"/><path d="M196.5,14 H204.5 L200.5,9.5 Z" fill="#4a5ab0"/></svg>
</div>
<div class="t" style="left:24px;top:41.88px;font-size:12.7px;line-height:15.24px;color:#000;font-weight:normal;transform:scaleX(.915);transform-origin:0 0;letter-spacing:0.15px;">SP500-,H4</div>
<div class="t" style="left:89.6px;top:41.88px;font-size:12.7px;line-height:15.24px;color:#000;font-weight:normal;letter-spacing:0.15px;">2910.000</div>
<div class="t" style="left:146.8px;top:41.88px;font-size:12.7px;line-height:15.24px;color:#000;font-weight:normal;letter-spacing:0.15px;">2910.000</div>
<div class="t" style="left:203.7px;top:41.88px;font-size:12.7px;line-height:15.24px;color:#000;font-weight:normal;letter-spacing:0.15px;">2910.000</div>
<div class="t" style="left:260.9px;top:41.88px;font-size:12.7px;line-height:15.24px;color:#000;font-weight:normal;letter-spacing:0.15px;">2910.000</div>
<div class="t" style="left:10px;top:542.47px;font-size:12.6px;line-height:15.12px;color:#000;font-weight:normal;">MACD(12,26,9) 0.6118 0.6956</div>
<div class="t" style="left:10px;top:606.47px;font-size:12.6px;line-height:15.12px;color:#000;font-weight:normal;">RSI(14) 54.9614</div>
<div class="t" style="left:1668px;top:69.88px;font-size:12.7px;line-height:15.24px;color:#000;font-weight:normal;letter-spacing:0.15px;">2919.005</div>
<div class="t" style="left:1668px;top:118.88px;font-size:12.7px;line-height:15.24px;color:#000;font-weight:normal;letter-spacing:0.15px;">2904.755</div>
<div class="t" style="left:1668px;top:167.88px;font-size:12.7px;line-height:15.24px;color:#000;font-weight:normal;letter-spacing:0.15px;">2890.505</div>
<div class="t" style="left:1668px;top:216.88px;font-size:12.7px;line-height:15.24px;color:#000;font-weight:normal;letter-spacing:0.15px;">2876.255</div>
<div class="t" style="left:1668px;top:265.88px;font-size:12.7px;line-height:15.24px;color:#000;font-weight:normal;letter-spacing:0.15px;">2862.290</div>
<div class="t" style="left:1668px;top:314.88px;font-size:12.7px;line-height:15.24px;color:#000;font-weight:normal;letter-spacing:0.15px;">2848.040</div>
<div class="t" style="left:1668px;top:363.88px;font-size:12.7px;line-height:15.24px;color:#000;font-weight:normal;letter-spacing:0.15px;">2833.790</div>
<div class="t" style="left:1668px;top:412.88px;font-size:12.7px;line-height:15.24px;color:#000;font-weight:normal;letter-spacing:0.15px;">2819.540</div>
<div class="t" style="left:1668px;top:461.88px;font-size:12.7px;line-height:15.24px;color:#000;font-weight:normal;letter-spacing:0.15px;">2805.575</div>
<div class="t" style="left:1668px;top:510.88px;font-size:12.7px;line-height:15.24px;color:#000;font-weight:normal;letter-spacing:0.15px;">2791.325</div>
<div class="t" style="left:1665px;top:540.88px;font-size:12.7px;line-height:15.24px;color:#000;font-weight:normal;letter-spacing:0.15px;">14.9028</div>
<div class="t" style="left:1665px;top:569.88px;font-size:12.7px;line-height:15.24px;color:#000;font-weight:normal;letter-spacing:0.15px;">0.00</div>
<div class="t" style="left:1665px;top:585.88px;font-size:12.7px;line-height:15.24px;color:#000;font-weight:normal;letter-spacing:0.15px;">-9.3599</div>
<div class="t" style="left:1665px;top:604.88px;font-size:12.7px;line-height:15.24px;color:#000;font-weight:normal;letter-spacing:0.15px;">100</div>
<div class="t" style="left:1665px;top:635.88px;font-size:12.7px;line-height:15.24px;color:#000;font-weight:normal;letter-spacing:0.15px;">70</div>
<div class="t" style="left:1665px;top:685.88px;font-size:12.7px;line-height:15.24px;color:#000;font-weight:normal;letter-spacing:0.15px;">30</div>
<div class="t" style="left:1665px;top:716.88px;font-size:12.7px;line-height:15.24px;color:#000;font-weight:normal;letter-spacing:0.15px;">0</div>
<div style="position:absolute;left:1663px;top:74px;width:62px;height:14px;background:#ff0000"></div>
<div class="t" style="left:1668px;top:74.88px;font-size:12.7px;line-height:15.24px;color:#fff;font-weight:normal;letter-spacing:0.15px;">2917.591</div>
<div style="position:absolute;left:1663px;top:100px;width:62px;height:14px;background:#000"></div>
<div class="t" style="left:1668px;top:100.88px;font-size:12.7px;line-height:15.24px;color:#fff;font-weight:normal;letter-spacing:0.15px;">2910.000</div>
<div style="position:absolute;left:1663px;top:177px;width:62px;height:13px;background:#00ff7f"></div>
<div class="t" style="left:1668px;top:177.38px;font-size:12.7px;line-height:15.24px;color:#fff;font-weight:normal;letter-spacing:0.15px;">2887.882</div>
<div style="position:absolute;left:1663px;top:289px;width:62px;height:13px;background:#0000ff"></div>
<div class="t" style="left:1668px;top:289.38px;font-size:12.7px;line-height:15.24px;color:#fff;font-weight:normal;letter-spacing:0.15px;">2855.588</div>
<div class="t" style="left:5.5px;top:736.16px;font-size:12.4px;line-height:14.88px;color:#000;font-weight:normal;letter-spacing:0.12px;">13 Mar 2019</div>
<div class="t" style="left:101.5px;top:736.16px;font-size:12.4px;line-height:14.88px;color:#000;font-weight:normal;letter-spacing:0.12px;">15 Mar 16:00</div>
<div class="t" style="left:197.5px;top:736.16px;font-size:12.4px;line-height:14.88px;color:#000;font-weight:normal;letter-spacing:0.12px;">19 Mar 12:00</div>
<div class="t" style="left:293.5px;top:736.16px;font-size:12.4px;line-height:14.88px;color:#000;font-weight:normal;letter-spacing:0.12px;">21 Mar 12:00</div>
<div class="t" style="left:389.5px;top:736.16px;font-size:12.4px;line-height:14.88px;color:#000;font-weight:normal;letter-spacing:0.12px;">25 Mar 08:00</div>
<div class="t" style="left:485.5px;top:736.16px;font-size:12.4px;line-height:14.88px;color:#000;font-weight:normal;letter-spacing:0.12px;">27 Mar 08:00</div>
<div class="t" style="left:581.5px;top:736.16px;font-size:12.4px;line-height:14.88px;color:#000;font-weight:normal;letter-spacing:0.12px;">29 Mar 08:00</div>
<div class="t" style="left:677.5px;top:736.16px;font-size:12.4px;line-height:14.88px;color:#000;font-weight:normal;letter-spacing:0.12px;">2 Apr 04:00</div>
<div class="t" style="left:773.5px;top:736.16px;font-size:12.4px;line-height:14.88px;color:#000;font-weight:normal;letter-spacing:0.12px;">4 Apr 04:00</div>
<div class="t" style="left:869.5px;top:736.16px;font-size:12.4px;line-height:14.88px;color:#000;font-weight:normal;letter-spacing:0.12px;">8 Apr 00:00</div>
<div class="t" style="left:965.5px;top:736.16px;font-size:12.4px;line-height:14.88px;color:#000;font-weight:normal;letter-spacing:0.12px;">10 Apr 00:00</div>
<div class="t" style="left:1061.5px;top:736.16px;font-size:12.4px;line-height:14.88px;color:#000;font-weight:normal;letter-spacing:0.12px;">12 Apr 00:00</div>
<div class="t" style="left:1157.5px;top:736.16px;font-size:12.4px;line-height:14.88px;color:#000;font-weight:normal;letter-spacing:0.12px;">15 Apr 20:00</div>
<div class="t" style="left:1253.5px;top:736.16px;font-size:12.4px;line-height:14.88px;color:#000;font-weight:normal;letter-spacing:0.12px;">17 Apr 20:00</div>
<div class="t" style="left:1188.6px;top:214.31px;font-size:50.6px;line-height:60.72px;color:#ff2010;font-weight:normal;font-family:"Liberation Sans","Noto Sans CJK SC",sans-serif;"><span style="position:relative;top:2.6px">多空转折点</span><span style="font-size:52px;letter-spacing:-0.3px">2887</span></div>
<div class="t" style="left:26px;top:66.65px;font-size:14px;line-height:16.80px;color:#fff;font-weight:normal;transform:scaleX(.98);transform-origin:0 0;">SELL</div>
<div class="t" style="left:242.5px;top:66.65px;font-size:14px;line-height:16.80px;color:#fff;font-weight:normal;transform:scaleX(1.03);transform-origin:0 0;">BUY</div>
<div class="t" style="right:1530.7px;top:64.81px;font-size:15.2px;line-height:18.24px;color:#000;font-weight:normal;">1.00</div>
<div class="t" style="left:29.6px;top:112.77px;font-size:14.3px;line-height:17.16px;color:#fff;font-weight:bold;transform:scaleX(1.17);transform-origin:0 0;">2909</div>
<div class="t" style="left:70.3px;top:87.73px;font-size:41.7px;line-height:50.04px;color:#fff;font-weight:normal;transform:scaleX(.975);transform-origin:0 0;">98</div>
<div class="t" style="left:119.5px;top:96.38px;font-size:12.8px;line-height:15.36px;color:#fff;font-weight:bold;transform:scaleX(1.3);transform-origin:0 0;">5</div>
<div class="t" style="left:171.4px;top:112.77px;font-size:14.3px;line-height:17.16px;color:#fff;font-weight:bold;transform:scaleX(1.17);transform-origin:0 0;">2911</div>
<div class="t" style="left:212.3px;top:87.73px;font-size:41.7px;line-height:50.04px;color:#fff;font-weight:normal;transform:scaleX(.99);transform-origin:0 0;">01</div>
<div class="t" style="left:262px;top:96.38px;font-size:12.8px;line-height:15.36px;color:#fff;font-weight:bold;transform:scaleX(1.3);transform-origin:0 0;">5</div>
</body></html>
